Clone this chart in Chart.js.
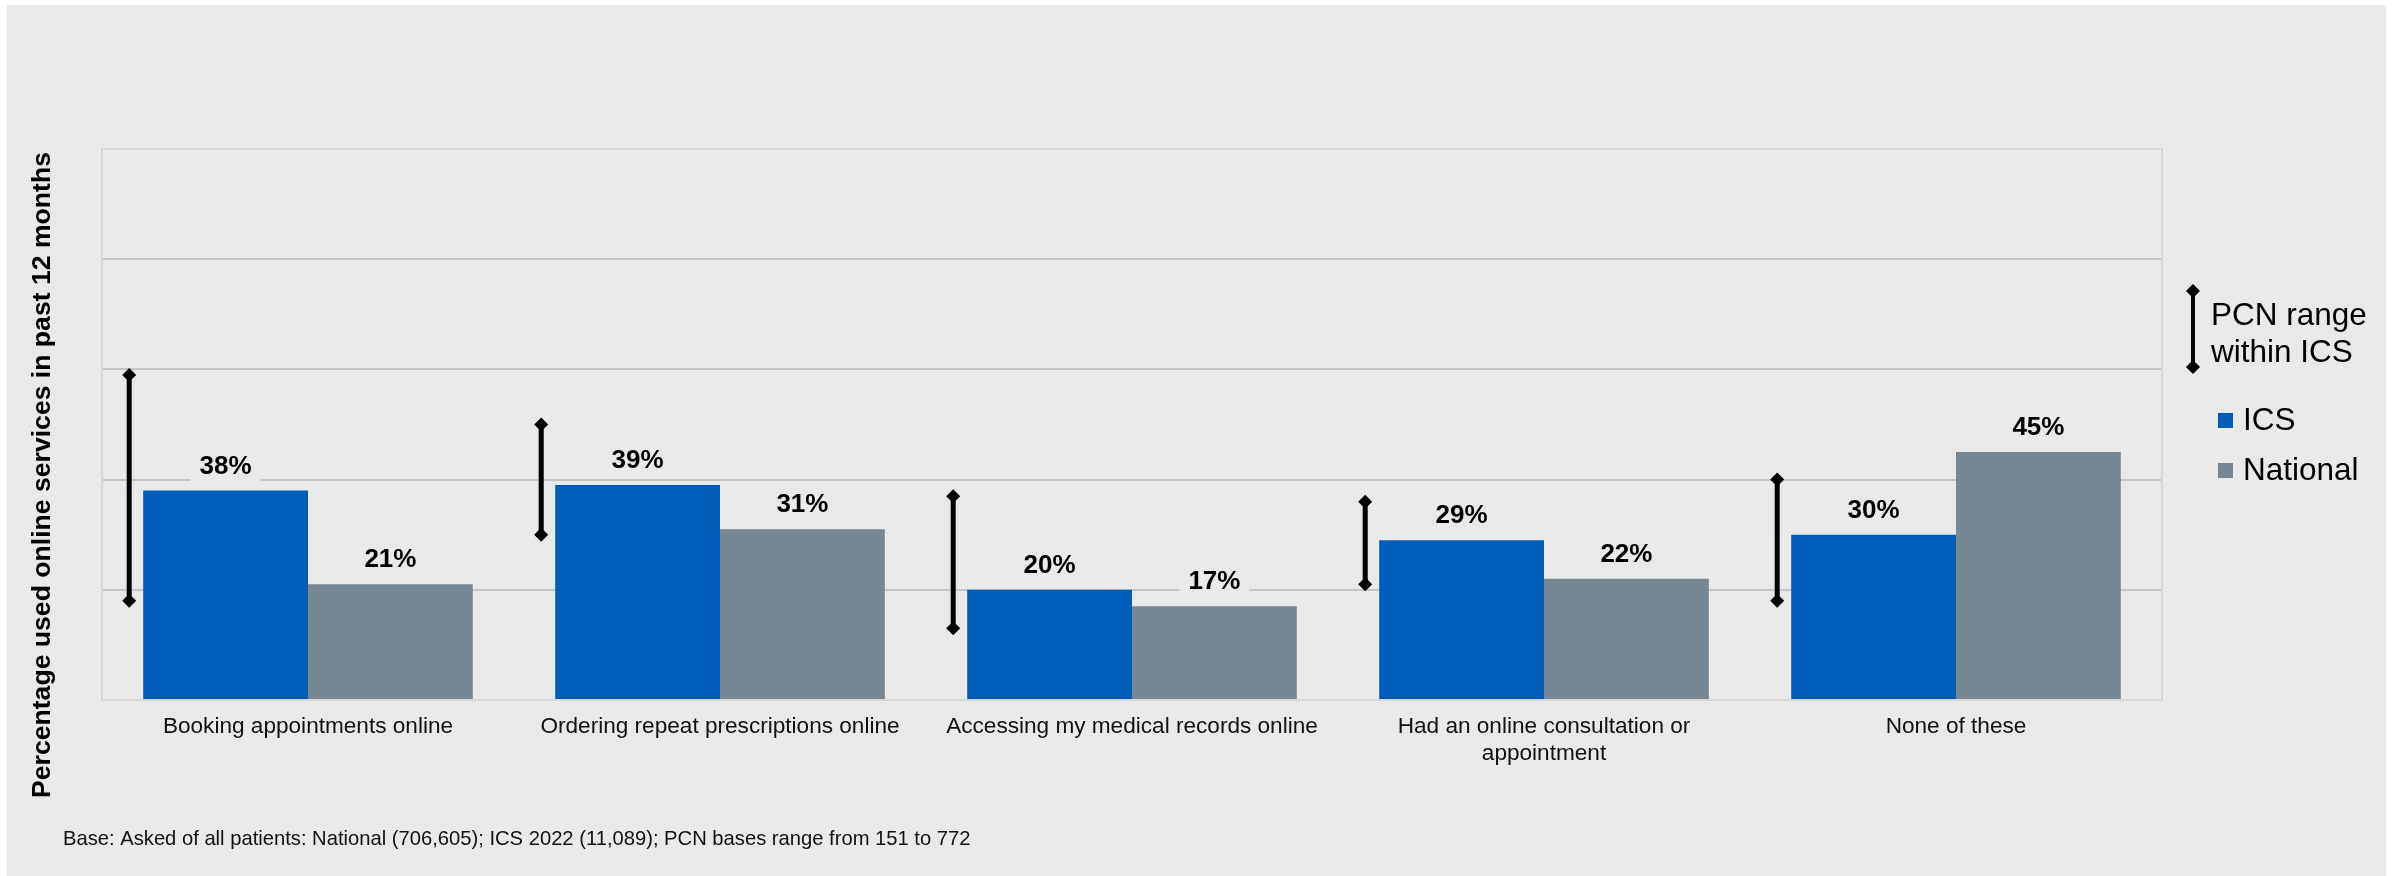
<!DOCTYPE html>
<html>
<head>
<meta charset="utf-8">
<title>Online services used in past 12 months</title>
<script src="https://cdn.jsdelivr.net/npm/chart.js@4.4.1/dist/chart.umd.min.js"></script>
<style>
    html, body { margin: 0; padding: 0; background: #ffffff; }
    #chart { display: block; }
</style>
</head>
<body>
<canvas id="chart" width="2400" height="876"></canvas>
<script>
// Survey question: online services used in past 12 months
const categories = [
    "Booking appointments online",
    "Ordering repeat prescriptions online",
    "Accessing my medical records online",
    ["Had an online consultation or", "appointment"],
    "None of these"
];
const icsValues = [38, 39, 20, 29, 30];
const nationalValues = [21, 31, 17, 22, 45];

// PCN range within ICS (min / max)
const pcnLow = [18, 30, 13, 21, 18];
const pcnHigh = [59, 50, 37, 36, 40];

const yTicks = [0, 20, 40, 60, 80, 100];

const FONT = '"Liberation Sans", Arial, sans-serif';
const ICS_BLUE = "#005EB8";
const NAT_GREY = "#768692";
const PANEL_BG = "#e9e9e9";

function drawDiamond(ctx, x, y, r) {
    ctx.beginPath();
    ctx.moveTo(x, y - r);
    ctx.lineTo(x + r, y);
    ctx.lineTo(x, y + r);
    ctx.lineTo(x - r, y);
    ctx.closePath();
    ctx.fill();
}

function drawRangeBar(ctx, x, yTop, yBottom, width) {
    ctx.save();
    ctx.strokeStyle = "#000";
    ctx.fillStyle = "#000";
    ctx.lineWidth = width;
    ctx.beginPath();
    ctx.moveTo(x, yTop);
    ctx.lineTo(x, yBottom);
    ctx.stroke();
    drawDiamond(ctx, x, yTop, 7);
    drawDiamond(ctx, x, yBottom, 7);
    ctx.restore();
}

const panelPlugin = {
    id: "panel",
    beforeDraw(chart) {
        const ctx = chart.ctx;
        ctx.save();
        ctx.fillStyle = PANEL_BG;
        ctx.fillRect(7, 5, 2379, 871);
        ctx.restore();
    },
    beforeDatasetsDraw(chart) {
        // light frame round the plot
        const a = chart.chartArea;
        const ctx = chart.ctx;
        ctx.save();
        ctx.strokeStyle = "#d6d6d6";
        ctx.lineWidth = 2;
        ctx.strokeRect(a.left, a.top, a.right - a.left, a.bottom - a.top);
        ctx.restore();
    }
};

const labelsPlugin = {
    id: "valueLabels",
    afterDatasetsDraw(chart) {
        const ctx = chart.ctx;
        const yScale = chart.scales.y;
        ctx.save();
        ctx.font = "bold 26px " + FONT;
        ctx.textAlign = "center";
        ctx.textBaseline = "alphabetic";

        chart.data.datasets.forEach((ds, di) => {
            chart.getDatasetMeta(di).data.forEach((bar, i) => {
                const text = ds.data[i] + "%";
                const w = ctx.measureText(text).width;
                const base = bar.y - 17;
                ctx.fillStyle = PANEL_BG;
                ctx.fillRect(bar.x - w / 2 - 9, base - 25, w + 18, 33);
                ctx.fillStyle = "#000";
                ctx.fillText(text, bar.x, base);
            });
        });

        // PCN range bars, left of each ICS bar
        const icsMeta = chart.getDatasetMeta(0);
        icsMeta.data.forEach((bar, i) => {
            const x = bar.x - bar.width / 2 - 14;
            drawRangeBar(ctx, x, yScale.getPixelForValue(pcnHigh[i]), yScale.getPixelForValue(pcnLow[i]), 5);
        });
        ctx.restore();
    },
    afterDraw(chart) {
        const ctx = chart.ctx;
        const a = chart.chartArea;
        ctx.save();

        // y axis title
        ctx.fillStyle = "#000";
        ctx.font = "bold 26.6px " + FONT;
        ctx.textAlign = "center";
        ctx.textBaseline = "middle";
        ctx.translate(43, 475);
        ctx.rotate(-Math.PI / 2);
        ctx.fillText("Percentage used online services in past 12 months", 0, 0);
        ctx.restore();

        // legend
        ctx.save();
        const lx = a.right + 31;
        drawRangeBar(ctx, lx, 291, 367, 4);
        ctx.fillStyle = "#000";
        ctx.font = "31.5px " + FONT;
        ctx.textAlign = "left";
        ctx.textBaseline = "alphabetic";
        ctx.fillText("PCN range", lx + 18, 325);
        ctx.fillText("within ICS", lx + 18, 362);

        ctx.fillStyle = ICS_BLUE;
        ctx.fillRect(lx + 25, 413, 15, 15);
        ctx.fillStyle = NAT_GREY;
        ctx.fillRect(lx + 25, 463, 15, 15);
        ctx.fillStyle = "#000";
        ctx.fillText("ICS", lx + 50, 430);
        ctx.fillText("National", lx + 50, 480);

        // base note
        ctx.fillStyle = "#111";
        ctx.font = "20.2px " + FONT;
        ctx.fillText("Base: Asked of all patients: National (706,605); ICS 2022 (11,089); PCN bases range from 151 to 772", 63, 845);
        ctx.restore();
    }
};

new Chart(document.getElementById("chart"), {
    type: "bar",
    data: {
        labels: categories,
        datasets: [
            { label: "ICS", data: icsValues, backgroundColor: ICS_BLUE },
            { label: "National", data: nationalValues, backgroundColor: NAT_GREY }
        ]
    },
    options: {
        responsive: false,
        animation: false,
        events: [],
        datasets: {
            bar: { categoryPercentage: 0.8, barPercentage: 1.0 }
        },
        layout: {
            padding: { left: 102, top: 149, right: 238, bottom: 86 }
        },
        plugins: {
            legend: { display: false },
            tooltip: { enabled: false }
        },
        scales: {
            x: {
                grid: { display: false, drawTicks: false },
                border: { display: false },
                ticks: {
                    color: "#111",
                    font: { family: FONT, size: 22.6 },
                    padding: 13,
                    maxRotation: 0,
                    autoSkip: false
                },
                afterFit: s => { s.height = 90; }
            },
            y: {
                min: 0,
                max: 100,
                afterBuildTicks: s => { s.ticks = yTicks.map(v => ({ value: v })); },
                ticks: { display: false },
                border: { display: false },
                grid: {
                    drawTicks: false,
                    lineWidth: 2,
                    color: c => (c.tick.value === 0 || c.tick.value === 100) ? "#d6d6d6" : "#c4c4c4"
                },
                afterFit: s => { s.width = 0; }
            }
        }
    },
    plugins: [panelPlugin, labelsPlugin]
});
</script>
</body>
</html>
